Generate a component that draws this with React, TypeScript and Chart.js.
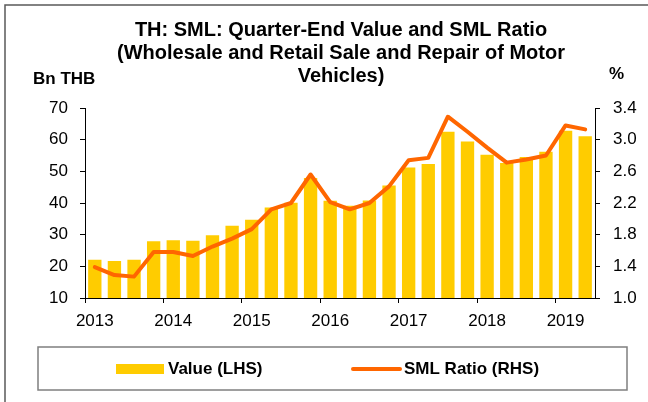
import React, { useEffect, useRef } from 'react';
import { Chart, registerables } from 'chart.js';

Chart.register(...registerables);

const FONT = '"Liberation Sans", Arial, Helvetica, sans-serif';

const quarters = [
  '2013Q1', '2013Q2', '2013Q3', '2013Q4',
  '2014Q1', '2014Q2', '2014Q3', '2014Q4',
  '2015Q1', '2015Q2', '2015Q3', '2015Q4',
  '2016Q1', '2016Q2', '2016Q3', '2016Q4',
  '2017Q1', '2017Q2', '2017Q3', '2017Q4',
  '2018Q1', '2018Q2', '2018Q3', '2018Q4',
  '2019Q1', '2019Q2',
];
const yearLabels = ['2013', '2014', '2015', '2016', '2017', '2018', '2019'];

const valueLHS = [
  22.1, 21.7, 22.1, 27.9,
  28.2, 28.1, 29.8, 32.8,
  34.7, 38.6, 40.1, 47.9,
  40.7, 39.1, 40.8, 45.5,
  51.2, 52.3, 62.5, 59.4,
  55.2, 52.6, 54.5, 56.2,
  62.8, 61.1,
];
const smlRatioRHS = [
  1.39, 1.29, 1.27, 1.58,
  1.58, 1.53, 1.65, 1.75,
  1.87, 2.12, 2.20, 2.56,
  2.21, 2.12, 2.20, 2.41,
  2.74, 2.77, 3.29, 3.10,
  2.90, 2.71, 2.75, 2.80,
  3.18, 3.13,
];

const titleLines = [
  'TH: SML: Quarter-End Value and SML Ratio',
  '(Wholesale and Retail Sale and Repair of Motor',
  'Vehicles)',
];
const leftUnit = 'Bn THB';
const rightUnit = '%';
const seriesNames = ['Value (LHS)', 'SML Ratio (RHS)'];

const BAR_COLOR = '#FFCC00';
const LINE_COLOR = '#FF6600';

const overlay = {
  id: 'overlay',
  afterDraw(chart: any) {
    const ctx = chart.ctx as CanvasRenderingContext2D;
    ctx.save();
    // outer frame
    ctx.strokeStyle = '#595959';
    ctx.lineWidth = 1.5;
    ctx.beginPath();
    ctx.moveTo(5, 402);
    ctx.lineTo(5, 5);
    ctx.lineTo(648, 5);
    ctx.stroke();

    // title
    ctx.fillStyle = '#000';
    ctx.textAlign = 'center';
    ctx.textBaseline = 'alphabetic';
    ctx.font = `bold 20px ${FONT}`;
    titleLines.forEach((t, i) => ctx.fillText(t, 341, 36 + i * 23));

    // unit labels
    ctx.font = `bold 17px ${FONT}`;
    ctx.textAlign = 'left';
    ctx.fillText(leftUnit, 33, 84);
    ctx.fillText(rightUnit, 609, 79);

    // legend box
    ctx.strokeStyle = '#7f7f7f';
    ctx.lineWidth = 1.5;
    ctx.strokeRect(38, 347, 589, 43);

    // legend items
    const ds = chart.data.datasets;
    ctx.fillStyle = ds[1].backgroundColor;
    ctx.fillRect(116, 364, 48, 10);
    ctx.strokeStyle = ds[0].borderColor;
    ctx.lineWidth = 4;
    ctx.lineCap = 'round';
    ctx.beginPath();
    ctx.moveTo(353, 369);
    ctx.lineTo(400, 369);
    ctx.stroke();
    ctx.fillStyle = '#000';
    ctx.font = `bold 17px ${FONT}`;
    ctx.fillText(ds[1].label, 168, 374);
    ctx.fillText(ds[0].label, 404, 374);
    ctx.restore();
  },
};

export default function App() {
  const canvasRef = useRef<HTMLCanvasElement | null>(null);

  useEffect(() => {
    const canvas = canvasRef.current;
    if (!canvas) return;
    const tickFont = { family: FONT, size: 17 };
    const chart = new Chart(canvas, {
      type: 'bar',
      data: {
        labels: quarters,
        datasets: [
          {
            type: 'line',
            label: seriesNames[1],
            data: smlRatioRHS,
            yAxisID: 'y1',
            borderColor: LINE_COLOR,
            backgroundColor: LINE_COLOR,
            borderWidth: 4,
            pointRadius: 0,
            tension: 0,
            borderJoinStyle: 'round',
            borderCapStyle: 'round',
            order: 0,
          } as any,
          {
            type: 'bar',
            label: seriesNames[0],
            data: valueLHS,
            yAxisID: 'y',
            backgroundColor: BAR_COLOR,
            borderWidth: 0,
            barPercentage: 0.68,
            categoryPercentage: 1.0,
            order: 1,
          } as any,
        ],
      },
      options: {
        responsive: false,
        animation: false,
        devicePixelRatio: 1,
        layout: { padding: { top: 108, left: 0, right: 0, bottom: 0 } },
        plugins: {
          legend: { display: false },
          title: { display: false },
          tooltip: { enabled: false },
        },
        scales: {
          x: {
            type: 'category',
            offset: true,
            afterFit: (s: any) => { s.height = 104; },
            border: { display: true, color: '#000', width: 1 },
            grid: {
              offset: true,
              drawOnChartArea: false,
              drawTicks: true,
              tickLength: 5,
              color: (c: any) => (c.index % 4 === 0 ? '#000' : 'rgba(0,0,0,0)'),
              tickColor: (c: any) => (c.index % 4 === 0 ? '#000' : 'rgba(0,0,0,0)'),
            },
            ticks: {
              autoSkip: false,
              maxRotation: 0,
              minRotation: 0,
              padding: 8,
              color: '#000',
              font: tickFont,
              callback: (_v: any, i: number) => (i % 4 === 0 ? yearLabels[i / 4] : ''),
            },
          },
          y: {
            type: 'linear',
            position: 'left',
            min: 10,
            max: 70,
            afterFit: (s: any) => { s.width = 85; },
            border: { display: true, color: '#000', width: 1 },
            grid: { drawOnChartArea: false, drawTicks: true, tickLength: 5, tickColor: '#000' },
            ticks: { stepSize: 10, padding: 12, color: '#000', font: tickFont },
          },
          y1: {
            type: 'linear',
            position: 'right',
            min: 1.0,
            max: 3.4,
            afterFit: (s: any) => { s.width = 53; },
            border: { display: true, color: '#000', width: 1 },
            grid: { drawOnChartArea: false, drawTicks: true, tickLength: 5, tickColor: '#000' },
            ticks: {
              stepSize: 0.4,
              padding: 13,
              color: '#000',
              font: tickFont,
              callback: (v: any) => Number(v).toFixed(1),
            },
          },
        },
      },
      plugins: [overlay],
    });
    return () => chart.destroy();
  }, []);

  return (
    <div style={{ position: 'fixed', left: 0, top: 0, width: 648, height: 402, background: '#fff' }}>
      <canvas ref={canvasRef} width={648} height={402} />
    </div>
  );
}
